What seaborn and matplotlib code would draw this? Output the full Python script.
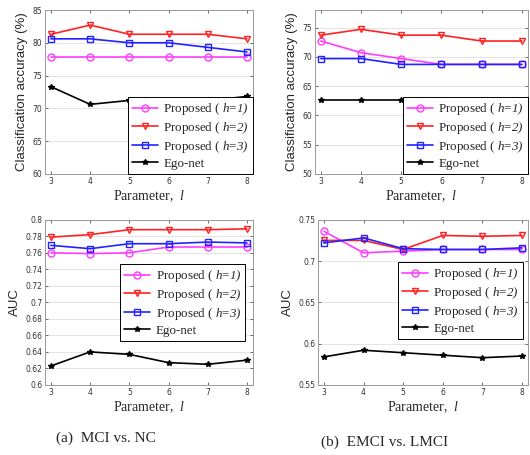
import seaborn as sns
import pandas as pd
import matplotlib.pyplot as plt
import numpy as np
from matplotlib.ticker import StrMethodFormatter

params = [3, 4, 5, 6, 7, 8]
labels = ["Proposed ( $h$=$\\mathrm{1)}$", "Proposed ( $h$=$\\mathrm{2)}$",
          "Proposed ( $h$=$\\mathrm{3)}$", "Ego-net"]

# (a) MCI vs. NC
acc_a_h1 = [77.9, 77.9, 77.9, 77.9, 77.9, 77.9]
acc_a_h2 = [81.3, 82.7, 81.3, 81.3, 81.3, 80.6]
acc_a_h3 = [80.6, 80.6, 80.0, 80.0, 79.3, 78.6]
acc_a_ego = [73.3, 70.6, 71.2, 71.2, 71.2, 71.8]
auc_a_h1 = [0.760, 0.759, 0.760, 0.767, 0.767, 0.767]
auc_a_h2 = [0.779, 0.782, 0.788, 0.788, 0.788, 0.789]
auc_a_h3 = [0.769, 0.765, 0.771, 0.771, 0.773, 0.772]
auc_a_ego = [0.623, 0.640, 0.637, 0.627, 0.625, 0.630]

# (b) EMCI vs. LMCI
acc_b_h1 = [72.7, 70.7, 69.7, 68.7, 68.7, 68.7]
acc_b_h2 = [73.7, 74.7, 73.7, 73.7, 72.7, 72.7]
acc_b_h3 = [69.7, 69.7, 68.7, 68.7, 68.7, 68.7]
acc_b_ego = [62.6, 62.6, 62.6, 62.6, 62.6, 62.6]
auc_b_h1 = [0.736, 0.710, 0.712, 0.714, 0.714, 0.714]
auc_b_h2 = [0.725, 0.725, 0.714, 0.731, 0.730, 0.731]
auc_b_h3 = [0.722, 0.728, 0.715, 0.714, 0.714, 0.716]
auc_b_ego = [0.584, 0.592, 0.589, 0.586, 0.583, 0.585]

sns.set_style("ticks")
plt.rcParams['mathtext.fontset'] = 'custom'
plt.rcParams['mathtext.rm'] = 'Liberation Serif:italic'
plt.rcParams['mathtext.it'] = 'Liberation Serif:italic'

colors = ["#ff3cff", "#ff2222", "#2222ff", "black"]
markers = ["o", "v", "s", "*"]

fig = plt.figure(figsize=(5.30, 4.55), dpi=100)


def panel(rect, series, ylim, yticks, ylabel, leg_anchor):
    ax = fig.add_axes(rect)
    for vals, lab, c, m in zip(series, labels, colors, markers):
        df = pd.DataFrame({"l": params, "v": vals})
        sns.lineplot(data=df, x="l", y="v", ax=ax, color=c, marker=m,
                     markersize=5 if m != "*" else 3.8,
                     markerfacecolor="none" if m != "*" else c,
                     markeredgecolor=c, markeredgewidth=1.0,
                     linewidth=1.2, label=lab)
    ax.set_xlim(2.85, 8.15)
    ax.set_ylim(*ylim)
    ax.set_xticks(params)
    ax.set_yticks(yticks)
    ax.yaxis.set_major_formatter(StrMethodFormatter("{x:g}"))
    ax.yaxis.grid(True, color="#e4e4e4", linewidth=0.7)
    ax.tick_params(direction="in", length=2, width=0.6, labelsize=5.5,
                   colors="#555555", labelcolor="#333333", pad=2,
                   top=True, right=True)
    for s in ax.spines.values():
        s.set_color("#999999")
        s.set_linewidth(0.7)
    ax.set_xlabel("Parameter,  $l$", family="Liberation Serif", fontsize=10, labelpad=2)
    ax.set_ylabel(ylabel, family="Liberation Sans", fontsize=9.5, labelpad=3)
    leg = ax.legend(loc="lower right", bbox_to_anchor=leg_anchor, borderaxespad=0,
                    prop={"family": "Liberation Serif", "size": 9.4},
                    fancybox=False, framealpha=1, edgecolor="black",
                    handlelength=2.0, labelspacing=0.22, borderpad=0.3,
                    handletextpad=0.4)
    leg.get_frame().set_linewidth(0.7)
    return ax


panel([0.085, 0.618, 0.392, 0.360],
      [acc_a_h1, acc_a_h2, acc_a_h3, acc_a_ego], (60, 85), np.arange(60, 86, 5),
      "Classification accuracy (%)", (1, 0))
panel([0.594, 0.618, 0.402, 0.360],
      [acc_b_h1, acc_b_h2, acc_b_h3, acc_b_ego], (50, 78), np.arange(50, 76, 5),
      "Classification accuracy (%)", (1, 0))
panel([0.085, 0.154, 0.392, 0.363],
      [auc_a_h1, auc_a_h2, auc_a_h3, auc_a_ego], (0.6, 0.8), np.arange(0.6, 0.801, 0.02),
      "AUC", (0.962, 0.267))
panel([0.600, 0.154, 0.396, 0.363],
      [auc_b_h1, auc_b_h2, auc_b_h3, auc_b_ego], (0.55, 0.75), np.arange(0.55, 0.751, 0.05),
      "AUC", (0.976, 0.279))

fig.text(0.20, 1 - 438 / 455, "(a)  MCI vs. NC", family="Liberation Serif",
         fontsize=11, ha="center", va="center")
fig.text(0.725, 1 - 442 / 455, "(b)  EMCI vs. LMCI", family="Liberation Serif",
         fontsize=11, ha="center", va="center")

fig.savefig("out.png", dpi=100)
